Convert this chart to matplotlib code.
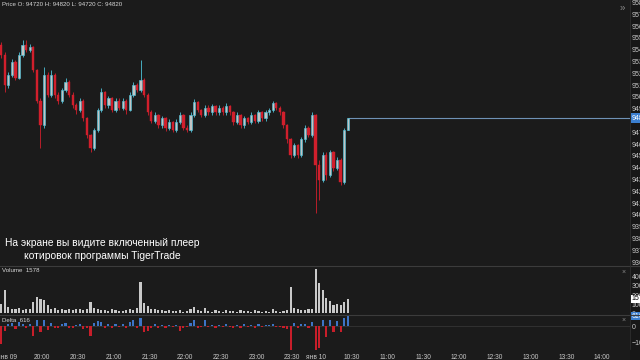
#!/usr/bin/env python3
"""TigerTrade-style price / volume / delta snapshot (3-minute candles)."""

import matplotlib

matplotlib.use("Agg")
import matplotlib.pyplot as plt
import numpy as np
from matplotlib.lines import Line2D
from matplotlib.patches import Rectangle

plt.rcParams["font.family"] = ["Liberation Sans", "DejaVu Sans"]

BG = "#1b1b1b"
AXIS_BG = "#171717"
TEXT = "#c8c8c8"
UP = "#4ec3da"
UP_BODY = "#c4c4c4"
DOWN = "#d11f2c"
VOL = "#c9c9c9"
DELTA_UP = "#3d74c6"
DELTA_DOWN = "#c81e2a"
SMALL = 4.4
AXIS_FONT = 5.0

# candle start on the trading-minute axis (19:00 jan 09 = 0, session break removed)
FIRST_MINUTE = 24
CANDLE_MINUTES = 3

OPENS = [
    95440, 95360, 95100, 95190, 95300, 95160, 95360, 95440, 95400, 95420,
    95230, 94970, 94760, 95190, 95020, 95190, 95020, 94970, 95060, 95130,
    95020, 94930, 94890, 94970, 94820, 94680, 94570, 94720, 94890, 95040,
    94930, 94990, 94890, 94970, 94910, 94970, 94890, 95020, 95100, 95060,
    95140, 95020, 94870, 94800, 94850, 94760, 94820, 94740, 94790, 94720,
    94790, 94850, 94740, 94720, 94850, 94960, 94890, 94850, 94910, 94870,
    94920, 94870, 94910, 94870, 94920, 94870, 94790, 94850, 94760, 94820,
    94790, 94850, 94800, 94870, 94820, 94870, 94890, 94950, 94910, 94870,
    94760, 94640, 94510, 94590, 94510, 94640, 94740, 94680, 94850, 94420,
    94300, 94510, 94340, 94530, 94400, 94470, 94280, 94720,
]
HIGHS = [
    95470, 95380, 95210, 95320, 95310, 95380, 95480, 95480, 95450, 95430,
    95240, 94990, 95250, 95210, 95230, 95200, 95040, 95080, 95160, 95140,
    95040, 94950, 94990, 94980, 94830, 94690, 94740, 94910, 95080, 95050,
    95010, 95000, 94990, 94990, 94990, 94980, 95040, 95130, 95120, 95310,
    95160, 95030, 94890, 94870, 94860, 94840, 94830, 94810, 94800, 94810,
    94870, 94860, 94760, 94870, 94980, 94970, 94900, 94930, 94930, 94940,
    94930, 94930, 94920, 94950, 94930, 94880, 94870, 94860, 94840, 94830,
    94870, 94860, 94890, 94880, 94890, 94910, 94970, 94960, 94920, 94880,
    94770, 94650, 94610, 94600, 94660, 94760, 94750, 94870, 94860, 94470,
    94530, 94530, 94550, 94540, 94490, 94480, 94740, 94820,
]
LOWS = [
    95330, 95040, 95080, 95170, 95140, 95150, 95340, 95380, 95380, 95210,
    94950, 94570, 94740, 95000, 95000, 94990, 94940, 94950, 95040, 95000,
    94910, 94860, 94870, 94800, 94650, 94530, 94550, 94700, 94870, 94910,
    94910, 94870, 94870, 94890, 94890, 94860, 94880, 95000, 95040, 95040,
    95000, 94850, 94780, 94780, 94740, 94740, 94710, 94720, 94700, 94700,
    94770, 94720, 94700, 94700, 94830, 94870, 94830, 94830, 94850, 94850,
    94850, 94850, 94850, 94850, 94850, 94760, 94770, 94740, 94740, 94770,
    94770, 94780, 94780, 94800, 94800, 94850, 94870, 94890, 94850, 94740,
    94610, 94480, 94490, 94480, 94490, 94620, 94660, 94660, 94020, 94130,
    94280, 94300, 94320, 94370, 94380, 94250, 94260, 94720,
]
CLOSES = [
    95360, 95100, 95190, 95300, 95160, 95360, 95440, 95400, 95420, 95230,
    94970, 94760, 95190, 95020, 95190, 95020, 94970, 95060, 95130, 95020,
    94930, 94890, 94970, 94820, 94680, 94570, 94720, 94890, 95040, 94930,
    94990, 94890, 94970, 94910, 94970, 94890, 95020, 95100, 95060, 95140,
    95020, 94870, 94800, 94850, 94760, 94820, 94740, 94790, 94720, 94790,
    94850, 94740, 94720, 94850, 94960, 94890, 94850, 94910, 94870, 94920,
    94870, 94910, 94870, 94920, 94870, 94790, 94850, 94760, 94820, 94790,
    94850, 94800, 94870, 94820, 94870, 94890, 94950, 94910, 94870, 94760,
    94640, 94510, 94590, 94510, 94640, 94740, 94680, 94850, 94420, 94300,
    94510, 94340, 94530, 94400, 94470, 94280, 94720, 94820,
]
VOLUMES = [
    1000, 2600, 700, 500, 400, 600, 300, 500, 400, 1200,
    1800, 1600, 1400, 900, 500, 600, 300, 400, 350, 500,
    300, 400, 500, 300, 400, 1200, 600, 400, 300, 350,
    250, 400, 300, 250, 200, 300, 400, 300, 600, 3400,
    1100, 800, 500, 400, 300, 350, 250, 300, 200, 250,
    300, 150, 200, 400, 700, 300, 250, 600, 200, 150,
    300, 200, 150, 350, 200, 250, 150, 300, 200, 250,
    150, 300, 200, 150, 250, 100, 400, 200, 150, 200,
    300, 2900, 600, 400, 350, 300, 500, 400, 4900, 3300,
    2600, 1700, 1300, 900, 1000, 900, 1200, 1578,
]
DELTAS = [
    -1100, -300, 150, 200, -200, 250, 100, -150, 100, -600,
    350, -400, 400, -250, 200, -150, -100, 150, 200, -150,
    -100, 80, 150, -200, -150, -650, 200, 300, 250, -100,
    150, -100, 100, -80, 100, -100, 250, 350, -150, 500,
    -350, -300, -150, 100, -100, 80, -100, 60, -80, 80,
    -300, -100, -80, 200, 400, -100, -60, 350, -80, 60,
    -100, 80, -60, 120, -80, -150, 80, -150, 100, -60,
    80, -100, 100, -60, 80, 40, 150, -80, -60, -100,
    -200, -1600, 200, -150, 120, 150, -100, 250, -1600, -1400,
    400, -700, 350, -400, 300, -350, 500, 616,
]

# time axis: ticks every 30 minutes, first tick of each day shows the date
TICK_MINUTES = [30, 60, 90, 120, 150, 180, 210, 240, 270,
                290, 320, 350, 380, 410, 440, 470, 500, 530]
TICK_LABELS = ["янв 09", "20:00", "20:30", "21:00", "21:30", "22:00", "22:30",
               "23:00", "23:30", "янв 10", "10:30", "11:00", "11:30", "12:00",
               "12:30", "13:00", "13:30", "14:00"]

PRICE_TICKS = np.arange(93600, 95900, 100)
VOLUME_TICKS = [0, 1000, 2000, 3000, 4000]
DELTA_TICKS = [-1000, 0]

W, H = 640, 360


def px_box(x0, y0, x1, y1):
    """Figure-fraction rect from pixel box (top-left origin)."""
    return [x0 / W, 1 - y1 / H, (x1 - x0) / W, (y1 - y0) / H]


def style_axis(ax):
    ax.set_facecolor(BG)
    for spine in ax.spines.values():
        spine.set_visible(False)
    ax.yaxis.tick_right()
    ax.tick_params(axis="y", length=0, pad=1.2, labelsize=AXIS_FONT, labelcolor=TEXT)
    ax.tick_params(axis="x", length=0, labelbottom=False)
    ax.set_xlim(24.5, 553.5)


def main():
    opens = np.array(OPENS, dtype=float)
    highs = np.array(HIGHS, dtype=float)
    lows = np.array(LOWS, dtype=float)
    closes = np.array(CLOSES, dtype=float)
    volumes = np.array(VOLUMES, dtype=float)
    deltas = np.array(DELTAS, dtype=float)
    t = FIRST_MINUTE + CANDLE_MINUTES * np.arange(len(closes)) + CANDLE_MINUTES / 2

    fig = plt.figure(figsize=(6.4, 3.6), dpi=100, facecolor=BG)
    fig.patches.append(Rectangle((630 / W, 0), 10 / W, 1, transform=fig.transFigure,
                                 facecolor=AXIS_BG, edgecolor="none", zorder=-5))

    ax_price = fig.add_axes(px_box(0, 0, 630, 265))
    ax_vol = fig.add_axes(px_box(0, 266, 630, 315))
    ax_delta = fig.add_axes(px_box(0, 315, 630, 350))
    for ax in (ax_price, ax_vol, ax_delta):
        style_axis(ax)

    # price candles
    up = closes >= opens
    wick_colors = np.where(up, UP, DOWN)
    ax_price.vlines(t, lows, highs, colors=wick_colors, linewidth=0.6, zorder=2)
    body_lo = np.minimum(opens, closes)
    body_h = np.maximum(np.abs(closes - opens), 6)
    ax_price.bar(t[up], body_h[up], bottom=body_lo[up], width=1.9,
                 color=UP_BODY, edgecolor=UP, linewidth=0.45, zorder=3)
    ax_price.bar(t[~up], body_h[~up], bottom=body_lo[~up], width=1.9,
                 color=DOWN, edgecolor=DOWN, linewidth=0.3, zorder=3)
    last = closes[-1]
    ax_price.hlines(last, t[-1], 553.5, color="#6f92b6", linewidth=0.8, zorder=1)
    ax_price.set_ylim(93576, 95822)
    ax_price.set_yticks([p for p in PRICE_TICKS if abs(p - last) > 50])
    ax_price.text(1.003, last, f"{last:.0f}", transform=ax_price.get_yaxis_transform(),
                  fontsize=AXIS_FONT, color="white", va="center", ha="left", clip_on=False,
                  bbox=dict(boxstyle="square,pad=0.2", facecolor="#3b7fd0", edgecolor="none"))

    # volume
    ax_vol.bar(t, volumes, width=1.8, color=VOL, linewidth=0)
    ax_vol.set_ylim(-220, 5220)
    ax_vol.set_yticks(VOLUME_TICKS)
    ax_vol.text(1.003, volumes[-1], f"{volumes[-1]:.0f}", transform=ax_vol.get_yaxis_transform(),
                fontsize=AXIS_FONT, color="black", va="center", ha="left", clip_on=False,
                bbox=dict(boxstyle="square,pad=0.1", facecolor="white", edgecolor="none"), zorder=5)

    # delta
    delta_colors = np.where(deltas >= 0, DELTA_UP, DELTA_DOWN)
    ax_delta.bar(t, deltas, width=1.8, color=delta_colors, linewidth=0)
    ax_delta.axhline(0, color="#3a3a3a", linewidth=0.5, zorder=0)
    ax_delta.set_ylim(-1500, 690)
    ax_delta.set_yticks(DELTA_TICKS)
    ax_delta.text(1.003, deltas[-1], f"{deltas[-1]:.0f}", transform=ax_delta.get_yaxis_transform(),
                  fontsize=AXIS_FONT, color="white", va="center", ha="left", clip_on=False,
                  bbox=dict(boxstyle="square,pad=0.1", facecolor="#3b7fd0", edgecolor="none"), zorder=5)
    ax_delta.tick_params(axis="x", labelbottom=True, pad=3.0, labelsize=SMALL + 0.4, labelcolor=TEXT)
    ax_delta.set_xticks(TICK_MINUTES)
    ax_delta.set_xticklabels(TICK_LABELS)

    # panel separators
    for ypx in (266, 315):
        fig.add_artist(Line2D([0, 1], [1 - ypx / H] * 2, transform=fig.transFigure,
                              color="#3c3c3c", linewidth=0.8))
    fig.add_artist(Line2D([630 / W] * 2, [0.03, 1], transform=fig.transFigure,
                          color="#2e2e2e", linewidth=0.6))

    # headers
    fig.text(2 / W, 1 - 4 / H, f"Price O: {opens[-1]:.0f} H: {highs[-1]:.0f} "
             f"L: {lows[-1]:.0f} C: {closes[-1]:.0f}",
             fontsize=SMALL, color="#d8d8d8", va="center", ha="left")
    fig.text(2 / W, 1 - 271 / H, f"Volume  {volumes[-1]:.0f}",
             fontsize=SMALL, color="#d8d8d8", va="center", ha="left")
    fig.text(2 / W, 1 - 320 / H, f"Delta  {deltas[-1]:.0f}",
             fontsize=SMALL, color="#d8d8d8", va="center", ha="left")
    fig.text(622 / W, 1 - 8 / H, "»", fontsize=7, color="#8a8a8a", va="center", ha="center")
    for ypx in (272, 320):
        fig.text(624 / W, 1 - ypx / H, "×", fontsize=5, color="#8a8a8a", va="center", ha="center")

    # caption overlay
    caption = ["На экране вы видите включенный плеер", "котировок программы TigerTrade"]
    for ypx, line in zip((243, 256), caption):
        fig.text(102 / W, 1 - ypx / H, line, fontsize=7.4, color="white",
                 va="center", ha="center")

    fig.savefig("out.png", dpi=100, facecolor=BG)
    plt.close(fig)


if __name__ == "__main__":
    main()
